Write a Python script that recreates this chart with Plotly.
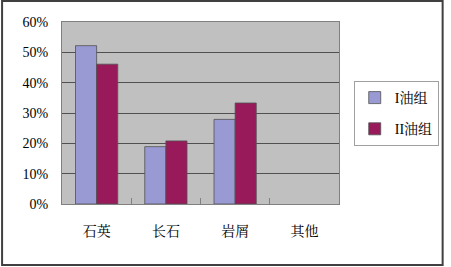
import plotly.graph_objects as go

categories = ["石英", "长石", "岩屑", "其他"]
series_names = ["I油组", "II油组"]
group1 = [0.522, 0.189, 0.279, None]
group2 = [0.461, 0.208, 0.333, None]
tick_vals = [0, 0.1, 0.2, 0.3, 0.4, 0.5, 0.6]
tick_text = ["0%", "10%", "20%", "30%", "40%", "50%", "60%"]

W, H = 451, 267
L, R, T, B = 62, 107, 22, 63
pw, ph = W - L - R, H - T - B

fig = go.Figure()
fig.add_bar(x=categories, y=group1, name=series_names[0], legendgroup="g1",
            marker=dict(color="#9999D4", line=dict(color="#505050", width=0.8)))
fig.add_bar(x=categories, y=group2, name=series_names[1], legendgroup="g2",
            marker=dict(color="#991A5A", line=dict(color="#505050", width=0.8)))

font_family = "Liberation Serif, Noto Serif CJK SC, Noto Sans CJK SC"
fig.update_layout(
    width=W, height=H,
    margin=dict(l=L, r=R, t=T, b=B),
    paper_bgcolor="white",
    plot_bgcolor="#C0C0C0",
    barmode="group",
    bargap=0.39,
    bargroupgap=0,
    font=dict(family=font_family, size=14, color="black"),
    legend=dict(x=(359 - L) / pw, y=(H - B - 81) / ph, xanchor="left", yanchor="top",
                bgcolor="white", bordercolor="#A0A0A0", borderwidth=1,
                font=dict(size=14), tracegroupgap=10, itemwidth=30),
    xaxis=dict(showline=True, linecolor="#808080", mirror=True,
               ticks="inside", tickson="boundaries", ticklen=6, tickcolor="#808080",
               tickfont=dict(size=14), showgrid=False, ticklabelstandoff=14),
    yaxis=dict(range=[0, 0.6], tickvals=tick_vals, ticktext=tick_text,
               showline=True, linecolor="#808080", mirror=True,
               gridcolor="#505050", gridwidth=1, ticks="", tickfont=dict(size=14),
               zeroline=False, ticklabelstandoff=10),
    shapes=[dict(type="rect", xref="paper", yref="paper",
                 x0=-(L - 1) / pw, x1=1 + (R - 1.5) / pw,
                 y0=-(B - 2) / ph, y1=1 + (T - 1) / ph,
                 line=dict(color="#404040", width=2))],
)

fig.write_html("out.html", config={"displayModeBar": False},
               post_script="document.body.style.margin='0';document.body.style.overflow='hidden';")
